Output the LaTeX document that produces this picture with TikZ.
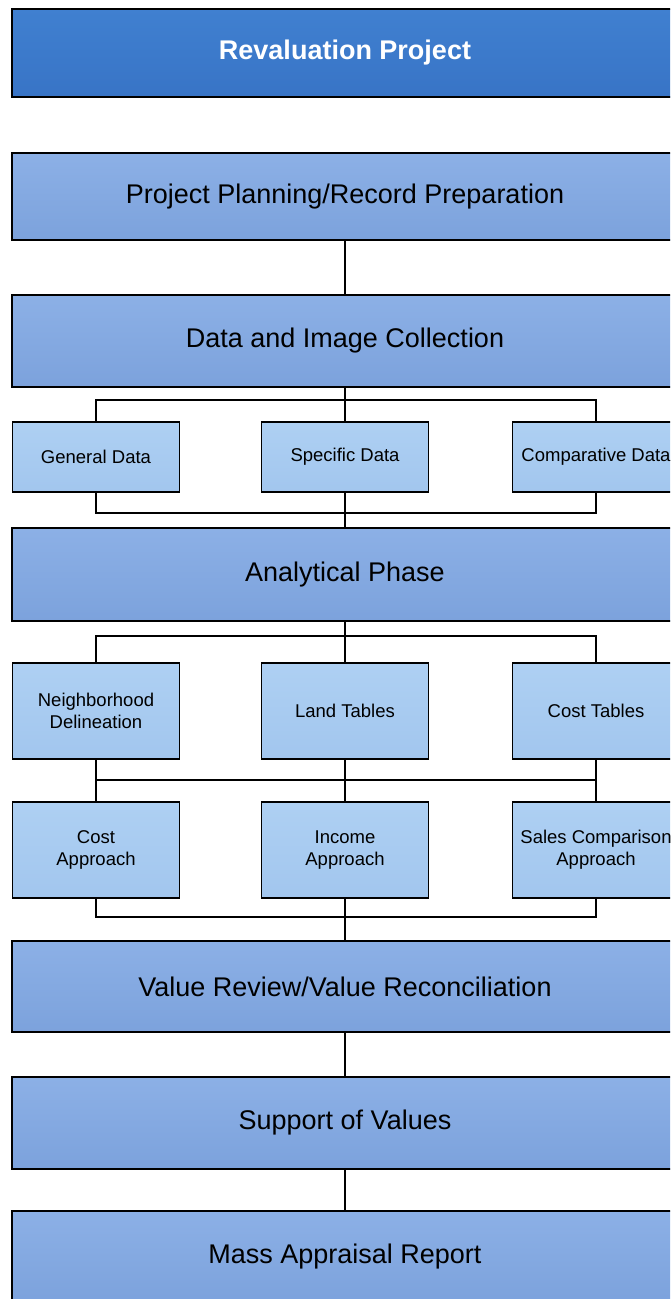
\documentclass[tikz,border=0pt]{standalone}
\usepackage{fontspec}
\setmainfont{Liberation Sans}
\definecolor{dbtop}{HTML}{4080D0}
\definecolor{dbbot}{HTML}{3874C6}
\definecolor{mbtop}{HTML}{8CB0E6}
\definecolor{mbbot}{HTML}{7CA2DC}
\definecolor{lbtop}{HTML}{AED0F3}
\definecolor{lbbot}{HTML}{A2C6EE}
\begin{document}
\begin{tikzpicture}[x=1pt,y=-1pt,
  bigbox/.style={draw=black, line width=1.6pt, minimum width=666pt, inner sep=0pt,
    top color=mbtop, bottom color=mbbot, font=\fontsize{27}{32}\selectfont},
  titlebox/.style={bigbox, top color=dbtop, bottom color=dbbot, text=white,
    font=\fontsize{27}{32}\selectfont\bfseries},
  smallbox/.style={draw=black, line width=1.6pt, minimum width=167pt, inner sep=0pt,
    align=center, top color=lbtop, bottom color=lbbot, font=\fontsize{18.5}{22}\selectfont},
  conn/.style={line width=1.6pt, draw=black}]
\useasboundingbox (0,0) rectangle (670,1299);
\clip (0,0) rectangle (670,1299);
\fill[white] (0,0) rectangle (670,1299);
% main boxes
\node[titlebox, minimum height=88pt] (rp) at (345,53) {Revaluation Project};
\node[bigbox, minimum height=87pt] (pp) at (345,196.5) {Project Planning/Record Preparation};
\node[bigbox, minimum height=92pt] (dic) at (345,341) {Data and Image Collection};
\node[bigbox, minimum height=93pt] (ana) at (345,574.5) {Analytical Phase};
\node[bigbox, minimum height=91pt] (vr) at (345,986.5) {Value Review/Value Reconciliation};
\node[bigbox, minimum height=92pt] (sv) at (345,1123) {Support of Values};
\node[bigbox, minimum height=92pt] (mar) at (345,1257) {Mass Appraisal Report};
% data boxes
\node[smallbox, minimum height=70pt] (gen) at (96,457) {General Data};
\node[smallbox, minimum height=70pt] (spec) at (345,457) {Specific Data};
\node[smallbox, minimum height=70pt] (cmp) at (596,457) {Comparative Data};
% analysis boxes
\node[smallbox, minimum height=96pt] (nd) at (96,711) {Neighborhood\\Delineation};
\node[smallbox, minimum height=96pt] (land) at (345,711) {Land Tables};
\node[smallbox, minimum height=96pt] (ct) at (596,711) {Cost Tables};
\node[smallbox, minimum height=96pt] (ca) at (96,850) {Cost\\Approach};
\node[smallbox, minimum height=96pt] (ia) at (345,850) {Income\\Approach};
\node[smallbox, minimum height=96pt] (sc) at (596,850) {Sales Comparison\\Approach};
% bus coordinates
\coordinate (b1) at (345,400);
\coordinate (b2) at (345,513);
\coordinate (b3) at (345,636);
\coordinate (b4) at (345,780);
\coordinate (b5) at (345,917);
% connectors
\draw[conn] (pp.south) -- (dic.north);
\draw[conn] (dic.south) -- (spec.north);
\draw[conn] (gen.north) |- (b1) -| (cmp.north);
\draw[conn] (gen.south) |- (b2) -| (cmp.south);
\draw[conn] (spec.south) -- (ana.north);
\draw[conn] (nd.north) |- (b3) -| (ct.north);
\draw[conn] (ana.south) -- (land.north);
\draw[conn] (nd.south) -- (ca.north);
\draw[conn] (land.south) -- (ia.north);
\draw[conn] (ct.south) -- (sc.north);
\draw[conn] (nd.south |- b4) -- (ct.south |- b4);
\draw[conn] (ca.south) |- (b5) -| (sc.south);
\draw[conn] (ia.south) -- (vr.north);
\draw[conn] (vr.south) -- (sv.north);
\draw[conn] (sv.south) -- (mar.north);
\end{tikzpicture}
\end{document}
